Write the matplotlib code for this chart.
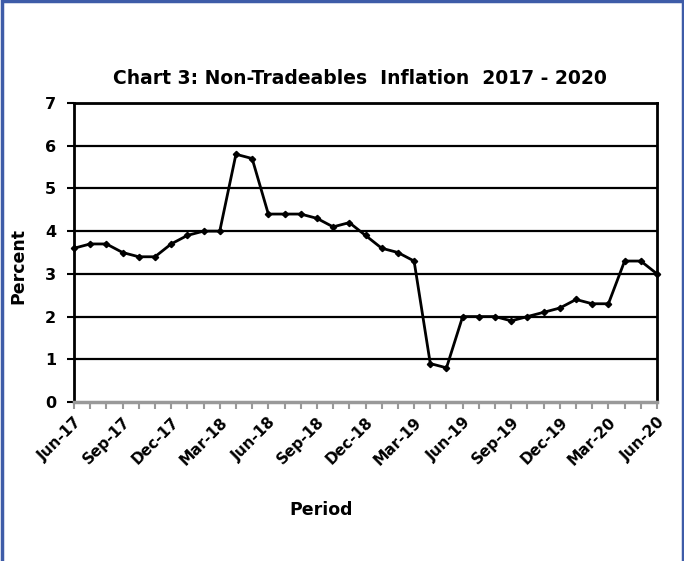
import matplotlib
matplotlib.use("Agg")
import matplotlib.pyplot as plt
from matplotlib.patches import Rectangle
import numpy as np

months = ["Jun-17", "Jul-17", "Aug-17", "Sep-17", "Oct-17", "Nov-17", "Dec-17", "Jan-18", "Feb-18",
          "Mar-18", "Apr-18", "May-18", "Jun-18", "Jul-18", "Aug-18", "Sep-18", "Oct-18", "Nov-18",
          "Dec-18", "Jan-19", "Feb-19", "Mar-19", "Apr-19", "May-19", "Jun-19", "Jul-19", "Aug-19",
          "Sep-19", "Oct-19", "Nov-19", "Dec-19", "Jan-20", "Feb-20", "Mar-20", "Apr-20", "May-20",
          "Jun-20"]
inflation = [3.6, 3.7, 3.7, 3.5, 3.4, 3.4, 3.7, 3.9, 4.0, 4.0, 5.8, 5.7, 4.4, 4.4, 4.4, 4.3, 4.1,
             4.2, 3.9, 3.6, 3.5, 3.3, 0.9, 0.8, 2.0, 2.0, 2.0, 1.9, 2.0, 2.1, 2.2, 2.4, 2.3, 2.3,
             3.3, 3.3, 3.0]
tick_labels = months[::3]
y_ticks = [0, 1, 2, 3, 4, 5, 6, 7]

plt.rcParams['font.family'] = ['DejaVu Sans']

fig = plt.figure(figsize=(6.84, 5.61), dpi=100)
W, H = 684, 561
ax = fig.add_axes([74 / W, 1 - 402 / H, (657 - 74) / W, (402 - 103) / H])

x = np.arange(len(months))
ax.plot(x, inflation, color='black', lw=2.0, marker='D', markersize=3.2, zorder=5, clip_on=False)

ax.set_xlim(0, len(months) - 1)
ax.set_ylim(0, 7)
ax.set_yticks(y_ticks)
ax.set_yticklabels([str(v) for v in y_ticks], fontsize=11.5, fontweight='bold')
for v in y_ticks[1:]:
    ax.axhline(v, color='black', lw=1.6, zorder=1)

ax.set_xticks(x[::3])
ax.set_xticklabels(tick_labels, rotation=45, ha='right', rotation_mode='anchor',
                   fontsize=11, fontweight='bold')
ax.set_xticks(x, minor=True)
ax.tick_params(axis='x', which='both', direction='out', length=5, width=1.5, color='#999999', pad=4)
ax.tick_params(axis='y', direction='out', length=5, width=1.5, color='black', pad=8)

for side in ['left', 'right', 'top']:
    ax.spines[side].set_color('black')
    ax.spines[side].set_linewidth(2.0)
ax.spines['bottom'].set_color('#999999')
ax.spines['bottom'].set_linewidth(2.5)

fig.text(360 / W, 1 - 79 / H, "Chart 3: Non-Tradeables  Inflation  2017 - 2020",
         ha='center', va='center', fontsize=13.5, fontweight='bold')
fig.text(321 / W, 1 - 510 / H, "Period", ha='center', va='center', fontsize=12.5, fontweight='bold')
fig.text(18 / W, 1 - 266 / H, "Percent", ha='center', va='center', rotation=90,
         fontsize=12.5, fontweight='bold')

fig.patches.append(Rectangle((1.5 / W, -0.05), (W - 3) / W, 1.05 - 1.5 / H, transform=fig.transFigure,
                             fill=False, edgecolor='#3E5CA8', lw=2.5, zorder=10))

fig.savefig("out.png", dpi=100)
